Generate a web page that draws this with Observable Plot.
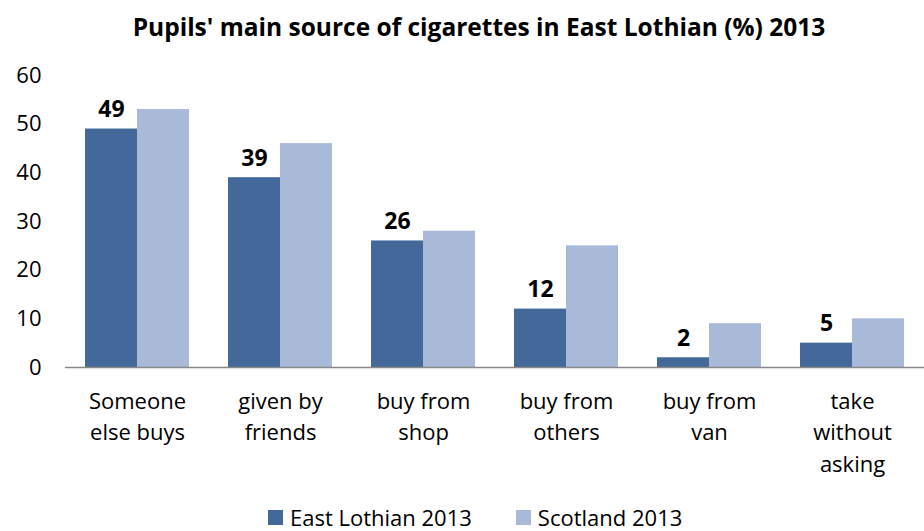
<!DOCTYPE html>
<html>
<head>
<meta charset="utf-8">
<script src="https://cdn.jsdelivr.net/npm/d3@7"></script>
<script src="https://cdn.jsdelivr.net/npm/@observablehq/plot@0.6"></script>
<style>
  html, body { margin: 0; padding: 0; background: #fff; width: 924px; height: 531px; overflow: hidden; font-family: "Open Sans", sans-serif; }
  #title { height: 50px; line-height: 54px; text-align: center; font-weight: bold; font-size: 24.5px; color: #000; padding-left: 34px; }
  #legend { display: flex; align-items: center; height: 34px; padding-left: 268px; padding-top: 10px; font-size: 22px; line-height: 26px; color: #000; }
  .sw { width: 15px; height: 15px; display: inline-block; margin-right: 7px; }
  .item { display: flex; align-items: center; margin-right: 44px; }
</style>
</head>
<body>
<div id="title">Pupils' main source of cigarettes in East Lothian (%) 2013</div>
<div id="chart"></div>
<div id="legend"></div>
<script>
const categories = ["Someone\nelse buys", "given by\nfriends", "buy from\nshop", "buy from\nothers", "buy from\nvan", "take\nwithout\nasking"];
const series = ["East Lothian 2013", "Scotland 2013"];
const eastLothian = [49, 39, 26, 12, 2, 5];
const scotland = [53, 46, 28, 25, 9, 10];
const yTicks = [0, 10, 20, 30, 40, 50, 60];
const colors = ["#426999", "#a9b9d8"];

const elData = categories.map((c, i) => ({category: c, value: eastLothian[i]}));
const scData = categories.map((c, i) => ({category: c, value: scotland[i]}));

const chart = Plot.plot({
  width: 924,
  height: 440,
  marginLeft: 65,
  marginRight: 0,
  marginTop: 25,
  marginBottom: 123,
  style: {fontFamily: "Open Sans, sans-serif", fontSize: "22px", color: "#000", background: "#fff"},
  x: {domain: categories, paddingInner: 0.276, paddingOuter: 0.128, label: null},
  y: {domain: [0, 60], label: null},
  marks: [
    Plot.barY(elData, {x: "category", y: "value", fill: colors[0], insetRight: 52}),
    Plot.barY(scData, {x: "category", y: "value", fill: colors[1], insetLeft: 52}),
    Plot.text(elData, {x: "category", y: "value", text: d => String(d.value), dx: -26, dy: -12, fontWeight: "bold", fontSize: 23, lineAnchor: "bottom", fill: "#000"}),
    Plot.ruleY([0], {stroke: "#888", strokeWidth: 1.5}),
    Plot.axisY({ticks: yTicks, tickSize: 0, tickPadding: 24, label: null, fontSize: 22}),
    Plot.axisX({tickSize: 0, tickPadding: 19, label: null, fontSize: 22, lineHeight: 1.43})
  ]
});
document.getElementById("chart").appendChild(chart);

const legend = document.getElementById("legend");
series.forEach((s, i) => {
  const item = document.createElement("div");
  item.className = "item";
  const sw = document.createElement("span");
  sw.className = "sw";
  sw.style.background = colors[i];
  item.appendChild(sw);
  item.appendChild(document.createTextNode(s));
  legend.appendChild(item);
});
</script>
</body>
</html>
